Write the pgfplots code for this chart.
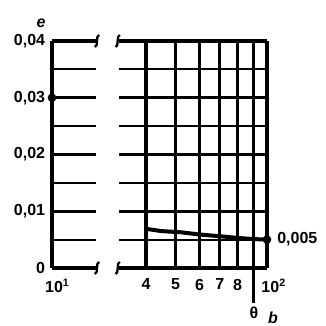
\documentclass[border=0pt]{standalone}
\usepackage{fontspec}
\setmainfont{Liberation Sans}
\usepackage{pgfplots}
\pgfplotsset{compat=1.18}

% break mark on the top and bottom lines
\newcommand{\brk}[2]{%
  \draw[line width=1.7pt] (#1+1.6pt,#2+4.5pt) .. controls (#1-1.2pt,#2+4.5pt) and (#1+1.2pt,#2-4.5pt) .. (#1-1.6pt,#2-4.5pt);}

\pgfplotsset{
  brokenaxis/.style={
    scale only axis,
    height=170.25pt,
    ymin=0, ymax=0.04,
    axis line style={draw=none},
    major tick length=0pt, minor tick length=0pt,
    ytick={0,0.01,0.02,0.03,0.04},
    minor ytick={0.005,0.015,0.025,0.035},
    scaled y ticks=false,
    ymajorgrids, yminorgrids,
    major grid style={line width=2.3pt, black},
    minor grid style={line width=1.6pt, black},
    tick label style={font=\fontsize{12}{12}\selectfont\bfseries},
    /pgf/number format/assume math mode=true,
    xticklabel style={anchor=north, inner sep=0pt, yshift=-8pt},
    yticklabel style={anchor=east, inner sep=0pt, xshift=-5pt},
    clip=false,
  }
}

\begin{document}
\begin{tikzpicture}
\path[use as bounding box] (0,0) rectangle (244.5pt,244.5pt);

% left part, 10^1 only
\begin{axis}[xmode=log, brokenaxis,
  at={(39pt,43.5pt)}, anchor=south west,
  width=33pt,
  xmin=10, xmax=13.95,
  xtick={10}, xticklabels={10\textsuperscript{1}},
  xticklabel style={xshift=4pt},
  yticklabels={0,{0,01},{0,02},{0,03},{0,04}},
]
\draw[line width=2.5pt] (rel axis cs:0,0) -- (rel axis cs:0,1);
\draw[line width=2.3pt] (rel axis cs:0,0) -- (rel axis cs:1,0);
\draw[line width=2.3pt] (rel axis cs:0,1) -- (rel axis cs:1,1);
\addplot[only marks, mark=*, mark size=3pt, black] coordinates {(10,0.03)};
\node[font=\fontsize{12}{12}\selectfont\bfseries\itshape] at (rel axis cs:-0.25,1.08) {e};
\end{axis}

% right part, 4 ... 10^2
\begin{axis}[xmode=log, brokenaxis,
  at={(89.25pt,43.5pt)}, anchor=south west,
  width=111pt,
  xmin=32.6, xmax=100,
  xtick={40,50,60,70,80,90},
  xticklabels={4,5,6,7,8,},
  extra x ticks={100},
  extra x tick labels={10\textsuperscript{2}},
  extra x tick style={xticklabel style={xshift=5pt}},
  xmajorgrids,
  yticklabels={},
]
\draw[line width=2.3pt] (rel axis cs:0,0) -- (rel axis cs:1,0);
\draw[line width=2.3pt] (rel axis cs:0,1) -- (rel axis cs:1,1);
\draw[line width=2.3pt] (rel axis cs:1,0) -- (rel axis cs:1,1);
\draw[line width=2.3pt] (axis cs:90,0) -- ([yshift=-26pt]axis cs:90,0);
\addplot[line width=3pt, black] coordinates {
  (40,0.0069) (45,0.0065) (52,0.0063) (60,0.0059)
  (70,0.0056) (80,0.0053) (90,0.0051) (100,0.005)};
\addplot[only marks, mark=*, mark size=3pt, black] coordinates {(100,0.005)};
\node[anchor=west, inner sep=0pt, xshift=7.5pt, font=\fontsize{12}{12}\selectfont\bfseries] at (axis cs:100,0.005) {0,005};
\end{axis}

\brk{72.75pt}{213.75pt}
\brk{72.75pt}{43.5pt}
\brk{88.25pt}{213.75pt}
\brk{88.25pt}{43.5pt}

\node[font=\fontsize{12}{12}\selectfont\bfseries] at (190.5pt,10.25pt) {θ};
\node[font=\fontsize{12}{12}\selectfont\bfseries\itshape] at (204.75pt,6pt) {b};
\end{tikzpicture}
\end{document}
